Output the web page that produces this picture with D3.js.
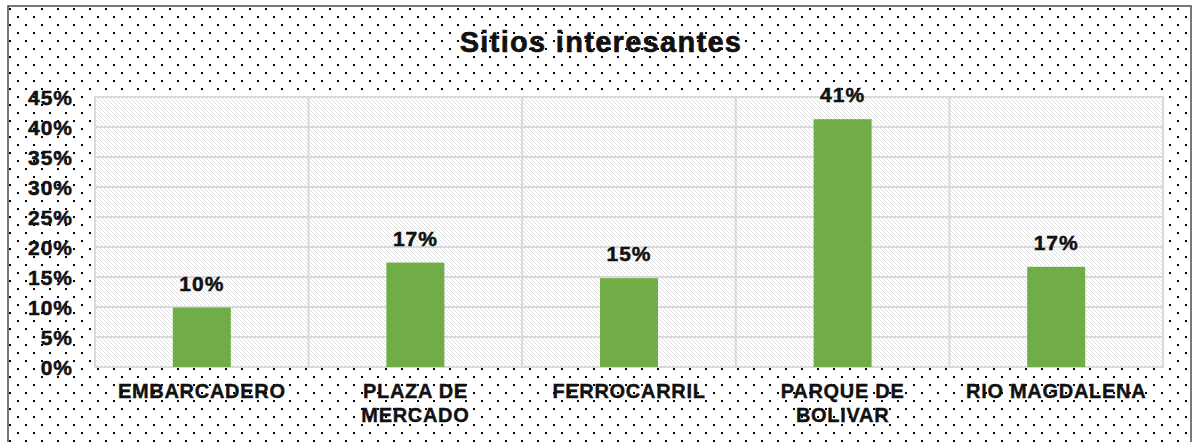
<!DOCTYPE html>
<html>
<head>
<meta charset="utf-8">
<script src="https://cdn.jsdelivr.net/npm/d3@7"></script>
<style>
  html, body { margin: 0; padding: 0; background: #fff; }
  svg { display: block; font-family: Arial, "Liberation Sans", sans-serif; }
</style>
</head>
<body>
<div id="chart"></div>
<script>
// datos del grafico
const categories = ["EMBARCADERO", "PLAZA DE MERCADO", "FERROCARRIL", "PARQUE DE BOLIVAR", "RIO MAGDALENA"];
const values = [0.099, 0.174, 0.148, 0.413, 0.167];
const yTicks = [0, 0.05, 0.10, 0.15, 0.20, 0.25, 0.30, 0.35, 0.40, 0.45];
const title = "Sitios interesantes";

(function () {
    const width = 1193;
    const height = 442;
    const plot = { left: 95, right: 1163, top: 97, bottom: 367 };

    const svg = d3.select("#chart")
        .append("svg")
        .attr("width", width)
        .attr("height", height);

    const defs = svg.append("defs");

    // fondo punteado del area del grafico
    const dots = defs.append("pattern")
        .attr("id", "dots")
        .attr("patternUnits", "userSpaceOnUse")
        .attr("x", 9).attr("y", 8)
        .attr("width", 16).attr("height", 16);
    dots.append("rect").attr("width", 16).attr("height", 16).attr("fill", "#fff");
    dots.append("rect").attr("x", 0).attr("y", 0).attr("width", 2).attr("height", 2).attr("fill", "#000");
    dots.append("rect").attr("x", 8).attr("y", 8).attr("width", 2).attr("height", 2).attr("fill", "#000");

    // rayado diagonal del area de trazado
    const hatch = defs.append("pattern")
        .attr("id", "hatch")
        .attr("patternUnits", "userSpaceOnUse")
        .attr("width", 4).attr("height", 4);
    hatch.append("rect").attr("width", 4).attr("height", 4).attr("fill", "#fff");
    hatch.append("path")
        .attr("d", "M-1,-1 L5,5 M-1,3 L1,5 M3,-1 L5,1")
        .attr("stroke", "#dcdcdc")
        .attr("stroke-width", 0.9);

    svg.append("rect")
        .attr("x", 0).attr("y", 0)
        .attr("width", width).attr("height", height)
        .attr("fill", "#fff");

    svg.append("rect")
        .attr("x", 8).attr("y", 6)
        .attr("width", 1183).attr("height", 460)
        .attr("fill", "url(#dots)")
        .attr("stroke", "#555")
        .attr("stroke-width", 1.6);

    const x = d3.scaleBand()
        .domain(categories)
        .range([plot.left, plot.right])
        .paddingInner(0)
        .paddingOuter(0);

    const y = d3.scaleLinear()
        .domain([0, 0.45])
        .range([plot.bottom, plot.top]);

    // area de trazado
    svg.append("rect")
        .attr("x", plot.left).attr("y", plot.top)
        .attr("width", plot.right - plot.left)
        .attr("height", plot.bottom - plot.top)
        .attr("fill", "url(#hatch)");

    // lineas de cuadricula horizontales
    svg.append("g")
        .selectAll("line")
        .data(yTicks)
        .enter().append("line")
        .attr("x1", plot.left).attr("x2", plot.right)
        .attr("y1", d => y(d)).attr("y2", d => y(d))
        .attr("stroke", "#d9d9d9")
        .attr("stroke-width", 2);

    // lineas verticales entre categorias
    const bounds = categories.map(c => x(c)).concat([plot.right]);
    svg.append("g")
        .selectAll("line")
        .data(bounds)
        .enter().append("line")
        .attr("x1", d => d).attr("x2", d => d)
        .attr("y1", plot.top - 1).attr("y2", plot.bottom + 1)
        .attr("stroke", "#d9d9d9")
        .attr("stroke-width", 2);

    // eje Y
    const yAxis = svg.append("g")
        .attr("transform", "translate(" + plot.left + ",0)")
        .call(d3.axisLeft(y).tickValues(yTicks).tickFormat(d3.format(".0%")).tickSize(0).tickPadding(22));
    yAxis.select(".domain").remove();
    yAxis.selectAll("text")
        .attr("font-family", "Arial, 'Liberation Sans', sans-serif")
        .attr("font-size", 21)
        .attr("font-weight", "bold")
        .attr("fill", "#111")
        .attr("stroke", "#111")
        .attr("stroke-width", 0.5)
        .attr("letter-spacing", "1px")
        .attr("dy", "0.36em");

    // barras
    const barWidth = 58;
    svg.selectAll(".bar")
        .data(values)
        .enter().append("rect")
        .attr("class", "bar")
        .attr("x", (d, i) => x(categories[i]) + x.bandwidth() / 2 - barWidth / 2)
        .attr("y", d => y(d))
        .attr("width", barWidth)
        .attr("height", d => plot.bottom - y(d))
        .attr("fill", "#70ad47");

    // etiquetas de datos
    svg.selectAll(".lbl")
        .data(values)
        .enter().append("text")
        .attr("class", "lbl")
        .attr("x", (d, i) => x(categories[i]) + x.bandwidth() / 2)
        .attr("y", d => y(d) - 17)
        .attr("text-anchor", "middle")
        .attr("font-size", 21)
        .attr("font-weight", "bold")
        .attr("letter-spacing", "1px")
        .attr("fill", "#111")
        .attr("stroke", "#111")
        .attr("stroke-width", 0.5)
        .text(d => Math.round(d * 100) + "%");

    // etiquetas de categorias (con ajuste de linea)
    const catG = svg.append("g");
    categories.forEach(function (c) {
        const t = catG.append("text")
            .attr("x", x(c) + x.bandwidth() / 2)
            .attr("y", 398)
            .attr("text-anchor", "middle")
            .attr("font-size", 20)
            .attr("font-weight", "bold")
            .attr("letter-spacing", "0.7px")
            .attr("fill", "#111")
            .attr("stroke", "#111")
            .attr("stroke-width", 0.4);
        const words = c.split(" ");
        let line = [];
        let tspan = t.append("tspan").attr("x", x(c) + x.bandwidth() / 2).attr("dy", 0);
        words.forEach(function (w) {
            line.push(w);
            tspan.text(line.join(" "));
            if (tspan.node().getComputedTextLength() > 190 && line.length > 1) {
                line.pop();
                tspan.text(line.join(" "));
                line = [w];
                tspan = t.append("tspan").attr("x", x(c) + x.bandwidth() / 2).attr("dy", 24).text(w);
            }
        });
    });

    // titulo
    svg.append("text")
        .attr("x", 601)
        .attr("y", 52)
        .attr("text-anchor", "middle")
        .attr("font-size", 29)
        .attr("font-weight", "bold")
        .attr("letter-spacing", "1.3px")
        .attr("fill", "#111")
        .attr("stroke", "#111")
        .attr("stroke-width", 0.6)
        .text(title);
})();
</script>
</body>
</html>
